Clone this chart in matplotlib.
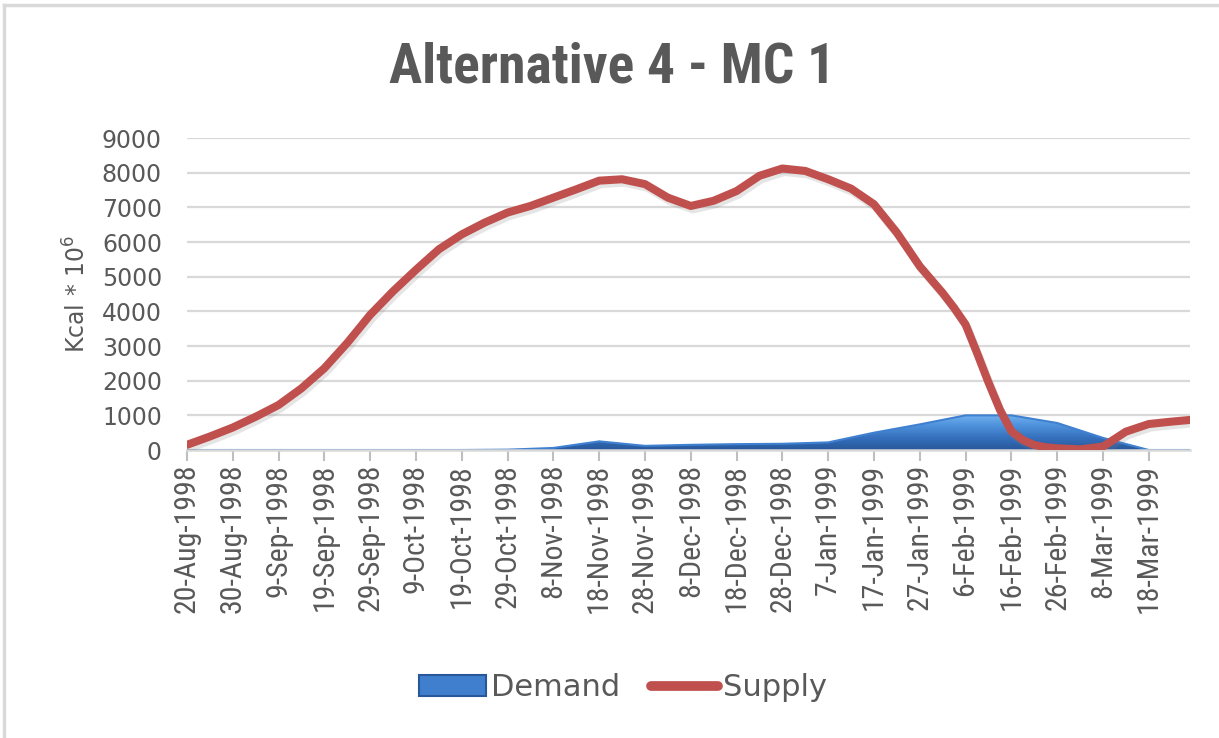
import numpy as np
import matplotlib
matplotlib.use("Agg")
import matplotlib.pyplot as plt
import matplotlib.dates as mdates
import matplotlib.patheffects as pe
from matplotlib.colors import LinearSegmentedColormap
from matplotlib.patches import Patch
from matplotlib.lines import Line2D

# Data
start_date = np.datetime64("1998-08-20")

# Supply readings: day offset from 20-Aug-1998 and value
supply_days = [0, 5, 10, 15, 20, 25, 30, 35, 40, 45,
               50, 55, 60, 65, 70, 75, 80, 85, 90, 95,
               100, 105, 110, 115, 120, 125, 130, 135, 140, 145,
               150, 155, 160, 165, 167.5, 170, 172.5, 175, 177.5, 180,
               182.5, 185, 187.5, 190, 195, 200, 205, 210, 215, 220]
supply = [150, 390, 650, 960, 1300, 1780, 2360, 3090, 3900, 4580,
          5200, 5790, 6220, 6560, 6850, 7040, 7280, 7520, 7770, 7810,
          7670, 7280, 7040, 7190, 7470, 7910, 8120, 8050, 7810, 7540,
          7090, 6270, 5300, 4530, 4100, 3620, 2800, 1950, 1160, 540,
          290, 145, 80, 50, 20, 100, 530, 750, 820, 880]

# Demand, one reading every 10 days from 20-Aug-1998
demand_step_days = 10
demand = [0, 0, 0, 0, 0, 0, 0, 10, 60, 250,
          120, 150, 170, 180, 220, 500, 740, 1000, 1000, 780,
          350, 0, 0]

tick_labels = ["20-Aug-1998", "30-Aug-1998", "9-Sep-1998", "19-Sep-1998",
               "29-Sep-1998", "9-Oct-1998", "19-Oct-1998", "29-Oct-1998",
               "8-Nov-1998", "18-Nov-1998", "28-Nov-1998", "8-Dec-1998",
               "18-Dec-1998", "28-Dec-1998", "7-Jan-1999", "17-Jan-1999",
               "27-Jan-1999", "6-Feb-1999", "16-Feb-1999", "26-Feb-1999",
               "8-Mar-1999", "18-Mar-1999"]

title = "Alternative 4 - MC 1"
y_label = "Kcal * 10$^6$"
y_ticks = [0, 1000, 2000, 3000, 4000, 5000, 6000, 7000, 8000, 9000]

TEXT = "#595959"
GRID = "#d9d9d9"
RED = "#c0504d"
NARROW = ["Roboto Condensed", "Lato", "DejaVu Sans"]

x0 = mdates.date2num(start_date.astype(object))
sx = x0 + np.array(supply_days)
dx = x0 + np.arange(len(demand)) * demand_step_days
tx = x0 + np.arange(len(tick_labels)) * 10
x1 = x0 + 219

fig = plt.figure(figsize=(12.19, 7.38), dpi=100)
ax = fig.add_axes([0.1534, 0.3902, 0.8228, 0.4228])

# outer chart border (top and left visible)
fig.add_artist(Line2D([4 / 1219, 1.0], [1 - 5 / 738, 1 - 5 / 738], color=GRID, lw=2.5,
                      transform=fig.transFigure))
fig.add_artist(Line2D([4 / 1219, 4 / 1219], [0.0, 1 - 5 / 738], color=GRID, lw=2.5,
                      transform=fig.transFigure))

# demand area with a vertical gradient
poly = ax.fill_between(dx, demand, 0, color="#3a74c0", lw=0, zorder=2)
cmap = LinearSegmentedColormap.from_list("dem", ["#28589a", "#3570bd", "#4f92dc", "#78b6f2"])
grad = np.linspace(0, 1, 256).reshape(-1, 1)
im = ax.imshow(grad, extent=[x0, x1, 0, 1050], origin="lower", aspect="auto",
               cmap=cmap, zorder=2.1)
im.set_clip_path(poly.get_paths()[0], transform=ax.transData)
ax.plot(dx, demand, color="#3f80d0", lw=1.5, zorder=2.2)

# supply line
ax.plot(sx, supply, color=RED, lw=5.8, solid_capstyle="round", solid_joinstyle="round",
        zorder=3,
        path_effects=[pe.SimpleLineShadow(offset=(1.5, -2.5), shadow_color="gray", alpha=0.2),
                      pe.Normal()])

ax.set_xlim(x0, x1)
ax.set_ylim(0, 9000)
ax.set_yticks(y_ticks)
ax.set_yticklabels([str(v) for v in y_ticks], fontsize=17, color=TEXT)
ax.set_xticks(tx)
ax.set_xticklabels(tick_labels, rotation=90, fontsize=21.5, color=TEXT, family=NARROW)
ax.tick_params(axis="y", length=0, pad=18)
ax.tick_params(axis="x", direction="out", length=8, width=1.5, color="#bfbfbf", pad=2)

ax.grid(axis="y", color=GRID, lw=1.6)
ax.set_axisbelow(True)
for side in ["top", "right", "left"]:
    ax.spines[side].set_visible(False)
ax.spines["bottom"].set_color(GRID)
ax.spines["bottom"].set_linewidth(1.8)

ax.set_ylabel(y_label, fontsize=17, color=TEXT, labelpad=8)

fig.text(0.502, 0.908, title, ha="center", va="center", fontsize=40, fontweight="bold",
         color=TEXT, family=NARROW)

handles = [Patch(facecolor="#3f7fce", edgecolor="#28589a", lw=1.5),
           Line2D([0], [0], color=RED, lw=7, solid_capstyle="round")]
leg = fig.legend(handles, ["Demand", "Supply"], loc="center", bbox_to_anchor=(0.511, 0.068),
                 ncol=2, frameon=False, fontsize=22, handlelength=2.2, handleheight=0.7,
                 handletextpad=0.15, columnspacing=1.0)
for t in leg.get_texts():
    t.set_color(TEXT)

fig.savefig("out.png", dpi=100)
